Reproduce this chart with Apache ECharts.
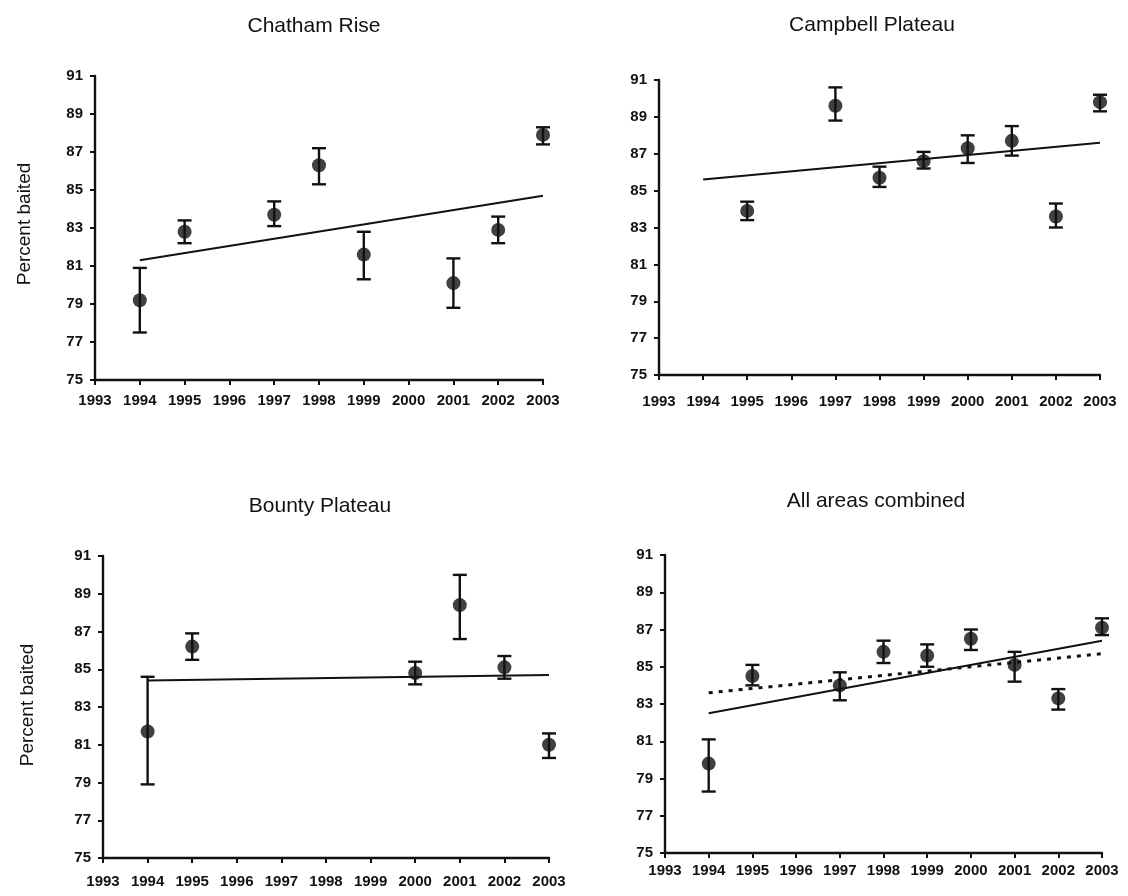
<!DOCTYPE html>
<html>
<head>
<meta charset="utf-8">
<title>Percent baited by year</title>
<script src="https://cdn.jsdelivr.net/npm/echarts@6/dist/echarts.min.js"></script>
<style>
  html, body { margin: 0; padding: 0; background: #fff; }
  #chart { width: 1128px; height: 896px; }
</style>
</head>
<body>
<div id="chart"></div>
<script>
// Axis settings shared by all four panels
const yearTicks = [1993, 1994, 1995, 1996, 1997, 1998, 1999, 2000, 2001, 2002, 2003];
const yMin = 75, yMax = 91, yStep = 2;

// Chatham Rise
const chathamYears = [1994, 1995, 1997, 1998, 1999, 2001, 2002, 2003];
const chathamMean  = [79.2, 82.8, 83.7, 86.3, 81.6, 80.1, 82.9, 87.9];
const chathamLow   = [77.5, 82.2, 83.1, 85.3, 80.3, 78.8, 82.2, 87.4];
const chathamHigh  = [80.9, 83.4, 84.4, 87.2, 82.8, 81.4, 83.6, 88.3];
const chathamTrend = [81.3, 84.7];

// Campbell Plateau
const campbellYears = [1995, 1997, 1998, 1999, 2000, 2001, 2002, 2003];
const campbellMean  = [83.9, 89.6, 85.7, 86.6, 87.3, 87.7, 83.6, 89.8];
const campbellLow   = [83.4, 88.8, 85.2, 86.2, 86.5, 86.9, 83.0, 89.3];
const campbellHigh  = [84.4, 90.6, 86.3, 87.1, 88.0, 88.5, 84.3, 90.2];
const campbellTrend = [85.6, 87.6];

// Bounty Plateau
const bountyYears = [1994, 1995, 2000, 2001, 2002, 2003];
const bountyMean  = [81.7, 86.2, 84.8, 88.4, 85.1, 81.0];
const bountyLow   = [78.9, 85.5, 84.2, 86.6, 84.5, 80.3];
const bountyHigh  = [84.6, 86.9, 85.4, 90.0, 85.7, 81.6];
const bountyTrend = [84.4, 84.7];

// All areas combined
const allYears = [1994, 1995, 1997, 1998, 1999, 2000, 2001, 2002, 2003];
const allMean  = [79.8, 84.5, 84.0, 85.8, 85.6, 86.5, 85.1, 83.3, 87.1];
const allLow   = [78.3, 84.0, 83.2, 85.2, 85.0, 85.9, 84.2, 82.7, 86.7];
const allHigh  = [81.1, 85.1, 84.7, 86.4, 86.2, 87.0, 85.8, 83.8, 87.6];
const allTrend       = [82.5, 86.4];
const allTrendDotted = [83.6, 85.7];

const trendYears = [1994, 2003];

const panels = [
  { title: 'Chatham Rise',       years: chathamYears,  mean: chathamMean,  low: chathamLow,  high: chathamHigh,  trend: chathamTrend,
    grid: { left: 95,  right: 585, top: 76,  bottom: 516 }, titlePos: [309, 11],  xMargin: 13 },
  { title: 'Campbell Plateau',   years: campbellYears, mean: campbellMean, low: campbellLow, high: campbellHigh, trend: campbellTrend,
    grid: { left: 659, right: 28,  top: 80,  bottom: 521 }, titlePos: [867, 10],  xMargin: 19 },
  { title: 'Bounty Plateau',     years: bountyYears,   mean: bountyMean,   low: bountyLow,   high: bountyHigh,   trend: bountyTrend,
    grid: { left: 103, right: 579, top: 556, bottom: 38 },  titlePos: [315, 491], xMargin: 16 },
  { title: 'All areas combined', years: allYears,      mean: allMean,      low: allLow,      high: allHigh,      trend: allTrend,
    grid: { left: 665, right: 26,  top: 555, bottom: 43 },  titlePos: [871, 486], xMargin: 10, dotted: allTrendDotted }
];

const ink = '#111';
const sans = 'Liberation Sans, Arial, sans-serif';
const tickFont = { color: ink, fontFamily: sans, fontWeight: 'bold' };

function errorBarItem(params, api) {
  const x = api.value(0);
  const top = api.coord([x, api.value(2)]);
  const bot = api.coord([x, api.value(1)]);
  const half = 7;
  const st = { stroke: ink, lineWidth: 2.4 };
  return {
    type: 'group',
    children: [
      { type: 'line', shape: { x1: top[0], y1: top[1], x2: bot[0], y2: bot[1] }, style: st },
      { type: 'line', shape: { x1: top[0] - half, y1: top[1], x2: top[0] + half, y2: top[1] }, style: st },
      { type: 'line', shape: { x1: bot[0] - half, y1: bot[1], x2: bot[0] + half, y2: bot[1] }, style: st }
    ]
  };
}

const option = {
  animation: false,
  backgroundColor: '#fff',
  title: panels.map(p => ({
    text: p.title,
    left: p.titlePos[0],
    top: p.titlePos[1],
    textAlign: 'center',
    textStyle: { fontFamily: sans, fontWeight: 'normal', fontSize: 21, color: ink }
  })),
  grid: panels.map(p => Object.assign({ containLabel: false }, p.grid)),
  xAxis: panels.map((p, i) => ({
    type: 'value', gridIndex: i, min: yearTicks[0], max: yearTicks[yearTicks.length - 1], interval: 1,
    splitLine: { show: false },
    axisLine: { show: true, onZero: false, lineStyle: { color: ink, width: 2.4 } },
    axisTick: { show: true, length: 5, lineStyle: { color: ink, width: 2 } },
    axisLabel: Object.assign({ fontSize: 15, margin: p.xMargin, formatter: v => String(v) }, tickFont)
  })),
  yAxis: panels.map((p, i) => ({
    type: 'value', gridIndex: i, min: yMin, max: yMax, interval: yStep,
    splitLine: { show: false },
    axisLine: { show: true, onZero: false, lineStyle: { color: ink, width: 2.4 } },
    axisTick: { show: true, length: 5, lineStyle: { color: ink, width: 2 } },
    axisLabel: Object.assign({ fontSize: 15, margin: 12 }, tickFont)
  })),
  graphic: [
    { type: 'text', x: 25, y: 224, rotation: Math.PI / 2,
      style: { text: 'Percent baited', fontSize: 19, fontFamily: sans, fill: ink, align: 'center', verticalAlign: 'middle' } },
    { type: 'text', x: 28, y: 705, rotation: Math.PI / 2,
      style: { text: 'Percent baited', fontSize: 19, fontFamily: sans, fill: ink, align: 'center', verticalAlign: 'middle' } }
  ],
  series: []
};

panels.forEach((p, i) => {
  option.series.push({
    type: 'line', xAxisIndex: i, yAxisIndex: i, symbol: 'none', silent: true,
    lineStyle: { color: ink, width: 2 },
    data: trendYears.map((y, k) => [y, p.trend[k]]),
    z: 2
  });
  if (p.dotted) {
    option.series.push({
      type: 'line', xAxisIndex: i, yAxisIndex: i, symbol: 'none', silent: true,
      lineStyle: { color: ink, width: 3, type: [4, 6] },
      data: trendYears.map((y, k) => [y, p.dotted[k]]),
      z: 2
    });
  }
  option.series.push({
    type: 'custom', xAxisIndex: i, yAxisIndex: i, silent: true,
    renderItem: errorBarItem,
    data: p.years.map((y, k) => [y, p.low[k], p.high[k]]),
    z: 3
  });
  option.series.push({
    type: 'scatter', xAxisIndex: i, yAxisIndex: i, silent: true,
    symbol: 'circle', symbolSize: 14,
    itemStyle: { color: ink },
    data: p.years.map((y, k) => [y, p.mean[k]]),
    z: 4
  });
});

const chart = echarts.init(document.getElementById('chart'), null, { renderer: 'canvas' });
chart.setOption(option);
</script>
</body>
</html>
